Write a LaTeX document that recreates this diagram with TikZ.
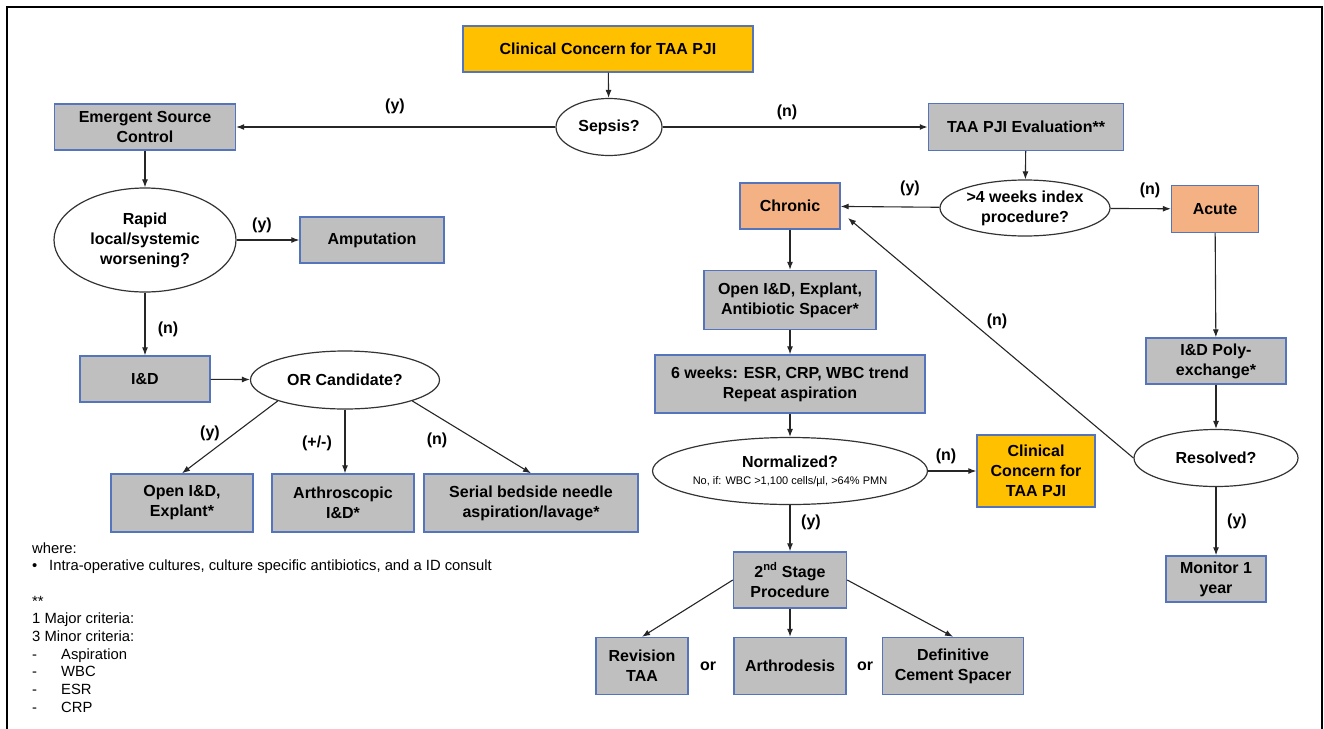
\documentclass[tikz,border=0pt]{standalone}
\usepackage{fontspec}
\setmainfont{Liberation Sans}
\usepackage{xcolor}
\usetikzlibrary{arrows.meta, shapes.geometric, calc}
\definecolor{BoxGray}{RGB}{191,191,191}
\definecolor{BoxBlue}{RGB}{84,116,190}
\definecolor{Gold}{RGB}{255,192,0}
\definecolor{Salmon}{RGB}{244,177,131}
\tikzset{
  >={Latex[length=8pt,width=6pt]},  % punte piccole
  % Blocchi
  box/.style={draw=BoxBlue,line width=1.4pt,fill=BoxGray,align=center,inner sep=2pt,
    font=\bfseries\fontsize{16}{20}\selectfont},
  box yellow/.style={box,fill=Gold},
  box orange/.style={box,fill=Salmon},
  decision/.style={ellipse,draw=black!80,line width=1.2pt,fill=white,align=center,inner sep=0pt,
    font=\bfseries\fontsize{16}{20}\selectfont},
  % Connessioni
  connect arrow/.style={->,line width=1.1pt,black!85},
  lbl/.style={inner sep=1pt,font=\bfseries\fontsize{16}{20}\selectfont},
  note/.style={anchor=west,align=left,inner sep=0pt,font=\fontsize{14.8}{17.67}\selectfont}
}

\begin{document}
\begin{tikzpicture}[x=1pt,y=-1pt]
  \useasboundingbox (0,0) rectangle (1324,728);
  \draw[line width=2.6pt] (7,730) -- (7,7) -- (1322,7) -- (1322,730);

  % ramo sepsi
  \node[box yellow,minimum width=290pt,minimum height=46pt] (cc1) at (608,49) {Clinical Concern for TAA PJI};
  \node[decision,minimum width=106pt,minimum height=57pt] (sep) at (609,127) {Sepsis?};
  \node[box,minimum width=181pt,minimum height=46pt] (emg) at (145,127) {Emergent Source\\Control};
  \node[decision,minimum width=182pt,minimum height=104pt] (rap) at (145,240) {Rapid\\local/systemic\\worsening?};
  \node[box,minimum width=144pt,minimum height=46pt] (amp) at (372,240) {Amputation};
  \node[box,minimum width=130pt,minimum height=46pt] (idd) at (145,379) {I\&D};
  \node[decision,minimum width=189pt,minimum height=58pt] (orc) at (345,380) {OR Candidate?};
  \node[box,minimum width=142pt,minimum height=58pt] (opn) at (182,503) {Open I\&D,\\Explant*};
  \node[box,minimum width=142pt,minimum height=58pt] (arc) at (343,503) {Arthroscopic\\I\&D*};
  \node[box,minimum width=214pt,minimum height=58pt] (ser) at (531,503) {Serial bedside needle\\aspiration/lavage*};

  % ramo valutazione
  \node[box,minimum width=195pt,minimum height=47pt] (evl) at (1026,127) {TAA PJI Evaluation**};
  \node[decision,minimum width=170pt,minimum height=56pt] (wks) at (1025,208) {>4 weeks index\\procedure?};
  \node[box orange,minimum width=87pt,minimum height=47pt] (acu) at (1215,209) {Acute};
  \node[box orange,minimum width=100pt,minimum height=46pt] (chr) at (790,206) {Chronic};
  \node[box,minimum width=172pt,minimum height=59pt] (oie) at (790,300) {Open I\&D, Explant,\\Antibiotic Spacer*};
  \node[box,minimum width=270pt,minimum height=58pt] (six) at (790,384) {6 weeks: ESR, CRP, WBC trend\\Repeat aspiration};
  \node[decision,minimum width=268pt,minimum height=67pt] (nrm) at (790,471)
    {Normalized?\\[-3pt]{\mdseries\fontsize{11}{12}\selectfont No, if: WBC >1,100 cells/µl, >64\% PMN}};
  \node[box yellow,minimum width=118pt,minimum height=72pt] (cc2) at (1036,471) {Clinical\\Concern for\\TAA PJI};
  \node[box,minimum width=113pt,minimum height=56pt] (stg) at (790,580) {2\textsuperscript{nd} Stage\\Procedure};
  \node[box,minimum width=92pt,minimum height=57pt] (rev) at (642,666) {Revision\\TAA};
  \node[box,minimum width=112pt,minimum height=57pt] (ard) at (790,666) {Arthrodesis};
  \node[box,minimum width=141pt,minimum height=57pt] (def) at (953,666) {Definitive\\Cement Spacer};
  \node[lbl] (or1) at (708,666) {or};
  \node[lbl] (or2) at (865,666) {or};
  \node[box,minimum width=140pt,minimum height=46pt] (ply) at (1216,361) {I\&D Poly-\\exchange*};
  \node[decision,minimum width=164pt,minimum height=57pt] (res) at (1216,458) {Resolved?};
  \node[box,minimum width=100pt,minimum height=46pt] (mon) at (1216,579) {Monitor 1\\year};
  \coordinate (chrhit) at (848,218);

  % frecce
  \draw[connect arrow] (cc1) -- (sep);
  \draw[connect arrow] (sep) -- (emg);
  \draw[connect arrow,line width=2.2pt] (sep) -- (evl);
  \draw[connect arrow] (emg) -- (rap);
  \draw[connect arrow] (rap) -- (amp);
  \draw[connect arrow] (rap) -- (idd);
  \draw[connect arrow] (idd) -- (orc);
  \draw[connect arrow] (orc.south west) -- (opn.north);
  \draw[connect arrow] (orc.south) -- (orc.south |- arc.north);
  \draw[connect arrow] (orc.south east) -- (ser.north);
  \draw[connect arrow] (evl) -- (wks);
  \draw[connect arrow] (wks) -- (chr);
  \draw[connect arrow] (wks) -- (acu);
  \draw[connect arrow] (chr) -- (oie);
  \draw[connect arrow] (oie) -- (six);
  \draw[connect arrow] (six) -- (nrm);
  \draw[connect arrow] (nrm) -- (cc2);
  \draw[connect arrow] (nrm) -- (stg);
  \draw[connect arrow] (stg.west) -- (rev.north);
  \draw[connect arrow] (stg) -- (ard);
  \draw[connect arrow] (stg.east) -- (def.north);
  \draw[connect arrow] (acu) -- (ply);
  \draw[connect arrow] (ply) -- (res);
  \draw[connect arrow] (res) -- (mon);
  \draw[connect arrow] (res.west) -- (chrhit);

  % etichette
  \node[lbl] (l1) at (395,106) {(y)};
  \node[lbl] (l2) at (787,112) {(n)};
  \node[lbl] (l3) at (262,225) {(y)};
  \node[lbl] (l4) at (168,329) {(n)};
  \node[lbl] (l5) at (210,433) {(y)};
  \node[lbl] (l6) at (317,443) {(+/-)};
  \node[lbl] (l7) at (437,440) {(n)};
  \node[lbl] (l8) at (910,188) {(y)};
  \node[lbl] (l9) at (1150,190) {(n)};
  \node[lbl] (l10) at (997,321) {(n)};
  \node[lbl] (l11) at (946,456) {(n)};
  \node[lbl] (l12) at (811,522) {(y)};
  \node[lbl] (l13) at (1237,521) {(y)};

  % note
  \node[note] (foot) at (32,627.5) {where:\\
    \makebox[17pt][l]{\textbullet}Intra-operative cultures, culture specific antibiotics, and a ID consult\\
    \mbox{}\\
    **\\
    1 Major criteria:\\
    3 Minor criteria:\\
    \makebox[29pt][l]{-}Aspiration\\
    \makebox[29pt][l]{-}WBC\\
    \makebox[29pt][l]{-}ESR\\
    \makebox[29pt][l]{-}CRP};
\end{tikzpicture}
\end{document}
